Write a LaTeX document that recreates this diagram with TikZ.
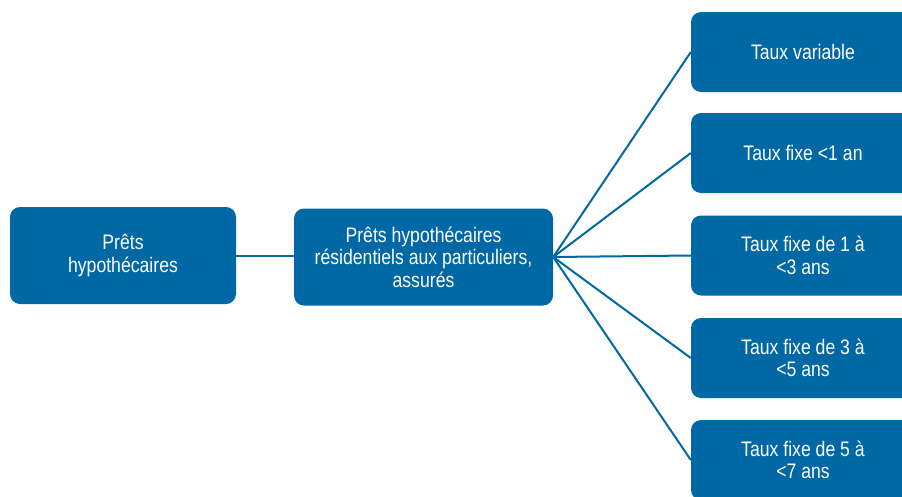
\documentclass[tikz,border=0pt]{standalone}
\usepackage{fontspec}
\newfontfamily\boxfont{Liberation Sans}[FakeStretch=0.84]
\definecolor{boxblue}{RGB}{0,105,165}
\begin{document}
\begin{tikzpicture}[x=1pt,y=-1pt,
  box/.style={fill=boxblue, rounded corners=10pt, text=white, align=center,
    inner sep=0pt, font=\boxfont\fontsize{21}{22.5}\selectfont},
  leaf/.style={box, minimum width=224pt, minimum height=80pt},
  link/.style={draw=boxblue, line width=2pt}]
\useasboundingbox (0,0) rectangle (902,496);
\clip (0,0) rectangle (902,496);
\node[box, minimum width=226pt, minimum height=97pt] (root) at (123,255.5) {Prêts\\hypothécaires};
\node[box, minimum width=259pt, minimum height=97pt] (mid) at (423.5,257) {Prêts hypothécaires\\résidentiels aux particuliers,\\assurés};
\node[leaf] (r1) at (803,52) {Taux variable};
\node[leaf] (r2) at (803,153) {Taux fixe <1 an};
\node[leaf] (r3) at (803,255.5) {Taux fixe de 1 à\\<3 ans};
\node[leaf] (r4) at (803,358) {Taux fixe de 3 à\\<5 ans};
\node[leaf] (r5) at (803,460) {Taux fixe de 5 à\\<7 ans};
\draw[link] (root.east) -- (mid.west |- root.east);
\foreach \r in {r1,r2,r3,r4,r5} {
  \draw[link] (mid.east) -- (\r.west);
}
\end{tikzpicture}
\end{document}
